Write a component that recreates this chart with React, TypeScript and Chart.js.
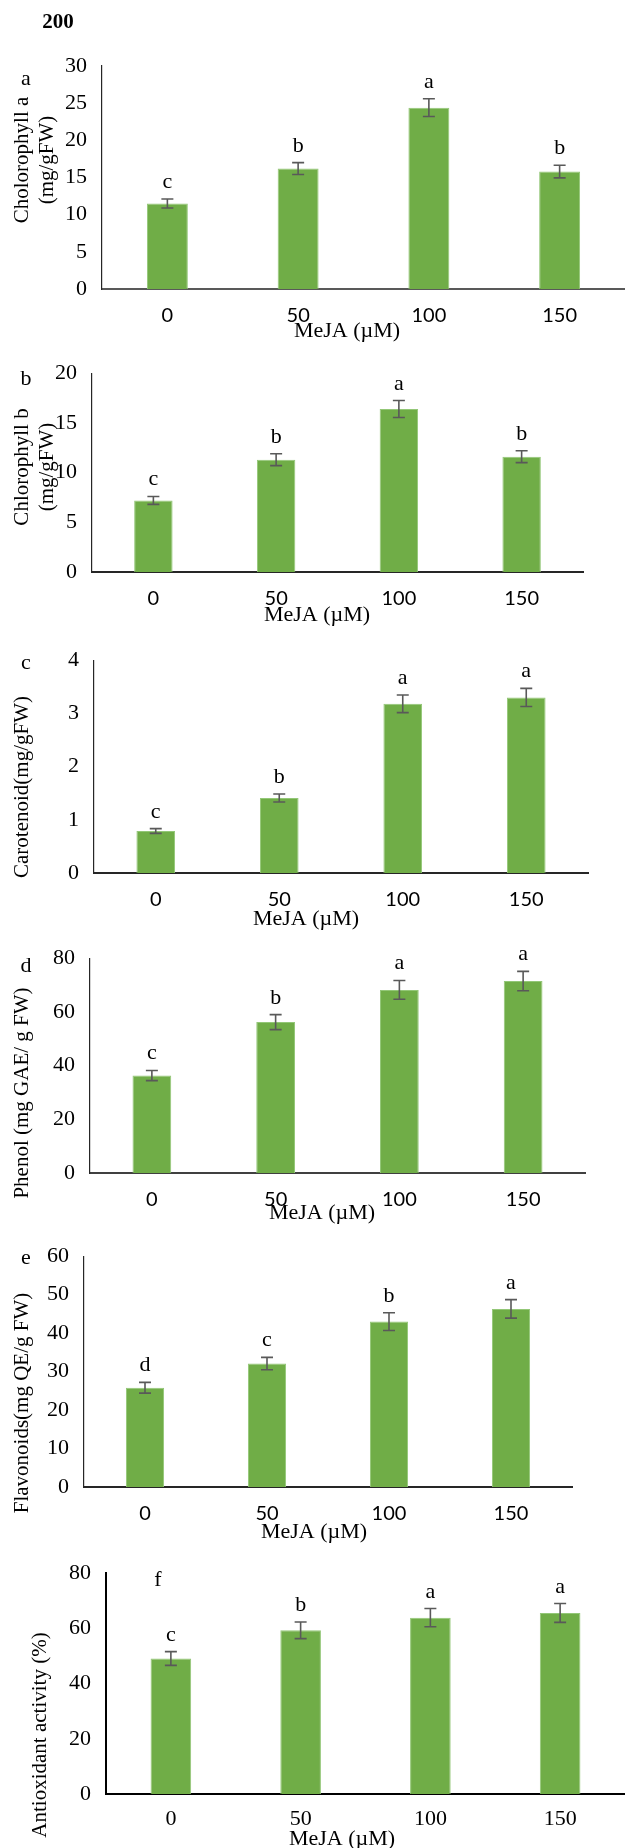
import React, { useEffect, useRef } from "react";
import { Chart, registerables } from "chart.js";

Chart.register(...registerables);

// ---------------- DATA ----------------
const doses = ["0", "50", "100", "150"];

const chlorophyllA = [11.5, 16.2, 24.4, 15.8];
const chlorophyllAErr = [0.6, 0.8, 1.2, 0.85];
const chlorophyllALetters = ["c", "b", "a", "b"];

const chlorophyllB = [7.2, 11.3, 16.4, 11.6];
const chlorophyllBErr = [0.4, 0.6, 0.85, 0.6];
const chlorophyllBLetters = ["c", "b", "a", "b"];

const carotenoid = [0.79, 1.41, 3.18, 3.3];
const carotenoidErr = [0.045, 0.075, 0.165, 0.17];
const carotenoidLetters = ["c", "b", "a", "a"];

const phenol = [36.3, 56.2, 68.2, 71.5];
const phenolErr = [1.9, 2.8, 3.5, 3.6];
const phenolLetters = ["c", "b", "a", "a"];

const flavonoids = [25.8, 32.1, 43.0, 46.3];
const flavonoidsErr = [1.4, 1.6, 2.3, 2.4];
const flavonoidsLetters = ["d", "c", "b", "a"];

const antioxidant = [49.1, 59.3, 63.9, 65.6];
const antioxidantErr = [2.5, 3.0, 3.3, 3.4];
const antioxidantLetters = ["c", "b", "a", "a"];

const axisMax = [30, 20, 4, 80, 60, 80];
const axisStep = [5, 5, 1, 20, 10, 20];

const xAxisTitle = "MeJA (\u00b5M)";
const figureNumber = "200";

// ---------------- STYLE / LAYOUT ----------------
const SERIF = "'Liberation Serif', 'Times New Roman', serif";
const SANS = "Lato, 'Open Sans', sans-serif";
const BAR_COLOR = "#70AD47";
const ERR_COLOR = "#595959";
const TEXT_SIZE = 22;

type Layout = {
  top: number;
  height: number;
  left: number;
  right: number;
  areaTop: number;
  areaBottom: number;
  titleLines: string[];
  titleX: number[];
  titleY: number;
  panelLabel: string;
  panelLabelX: number;
  panelLabelBase: number;
  xTitleX: number;
  xTitleY: number;
  xTickFont: string;
  xTickSize: number;
  xTickPad: number;
  xAxisColor: string;
  xAxisWidth: number;
  yAxisColor: string;
  yAxisWidth: number;
};

type Panel = Layout & {
  values: number[];
  errors: number[];
  letters: string[];
  max: number;
  step: number;
  extra?: { text: string; x: number; y: number; font: string }[];
};

const panels: Panel[] = [
  {
    top: 0, height: 345, left: 102, right: 625, areaTop: 66, areaBottom: 289,
    titleLines: ["Cholorophyll a", "(mg/gFW)"], titleX: [22, 47], titleY: 160,
    panelLabel: "a", panelLabelX: 26, panelLabelBase: 85,
    xTitleX: 347, xTitleY: 331,
    xTickFont: SANS, xTickSize: 20, xTickPad: 15,
    xAxisColor: "#595959", xAxisWidth: 2, yAxisColor: "#262626", yAxisWidth: 1.2,
    values: chlorophyllA, errors: chlorophyllAErr, letters: chlorophyllALetters,
    max: axisMax[0], step: axisStep[0],
    extra: [{ text: figureNumber, x: 58, y: 23, font: `bold 21px ${SERIF}` }],
  },
  {
    top: 345, height: 287, left: 92, right: 583, areaTop: 364, areaBottom: 572,
    titleLines: ["Chlorophyll b", "(mg/gFW)"], titleX: [22, 47], titleY: 467,
    panelLabel: "b", panelLabelX: 26, panelLabelBase: 385,
    xTitleX: 317, xTitleY: 615,
    xTickFont: SANS, xTickSize: 20, xTickPad: 15,
    xAxisColor: "#262626", xAxisWidth: 2, yAxisColor: "#262626", yAxisWidth: 1.2,
    values: chlorophyllB, errors: chlorophyllBErr, letters: chlorophyllBLetters,
    max: axisMax[1], step: axisStep[1],
  },
  {
    top: 632, height: 298, left: 94, right: 588, areaTop: 650, areaBottom: 873,
    titleLines: ["Carotenoid(mg/gFW)"], titleX: [22], titleY: 787,
    panelLabel: "c", panelLabelX: 26, panelLabelBase: 669,
    xTitleX: 306, xTitleY: 919,
    xTickFont: SANS, xTickSize: 20, xTickPad: 15,
    xAxisColor: "#262626", xAxisWidth: 2, yAxisColor: "#262626", yAxisWidth: 1.2,
    values: carotenoid, errors: carotenoidErr, letters: carotenoidLetters,
    max: axisMax[2], step: axisStep[2],
  },
  {
    top: 930, height: 298, left: 90, right: 585, areaTop: 951, areaBottom: 1173,
    titleLines: ["Phenol (mg GAE/ g FW)"], titleX: [22], titleY: 1093,
    panelLabel: "d", panelLabelX: 26, panelLabelBase: 972,
    xTitleX: 322, xTitleY: 1213,
    xTickFont: SANS, xTickSize: 20, xTickPad: 15,
    xAxisColor: "#404040", xAxisWidth: 2, yAxisColor: "#262626", yAxisWidth: 1.2,
    values: phenol, errors: phenolErr, letters: phenolLetters,
    max: axisMax[3], step: axisStep[3],
  },
  {
    top: 1228, height: 317, left: 84, right: 572, areaTop: 1245, areaBottom: 1487,
    titleLines: ["Flavonoids(mg QE/g FW)"], titleX: [22], titleY: 1403,
    panelLabel: "e", panelLabelX: 26, panelLabelBase: 1264,
    xTitleX: 314, xTitleY: 1532,
    xTickFont: SANS, xTickSize: 20, xTickPad: 15,
    xAxisColor: "#262626", xAxisWidth: 2, yAxisColor: "#262626", yAxisWidth: 1.2,
    values: flavonoids, errors: flavonoidsErr, letters: flavonoidsLetters,
    max: axisMax[4], step: axisStep[4],
  },
  {
    top: 1545, height: 303, left: 106, right: 625, areaTop: 1563, areaBottom: 1794,
    titleLines: ["Antioxidant activity (%)"], titleX: [40], titleY: 1735,
    panelLabel: "f", panelLabelX: 158, panelLabelBase: 1586,
    xTitleX: 342, xTitleY: 1839,
    xTickFont: SERIF, xTickSize: 22, xTickPad: 12,
    xAxisColor: "#000000", xAxisWidth: 2, yAxisColor: "#000000", yAxisWidth: 2,
    values: antioxidant, errors: antioxidantErr, letters: antioxidantLetters,
    max: axisMax[5], step: axisStep[5],
  },
];

const X_SCALE_H = 40;

function makeOverlay(p: Panel) {
  return {
    id: "overlay",
    afterDatasetsDraw(chart: any) {
      const ctx = chart.ctx as CanvasRenderingContext2D;
      const ys = chart.scales.y;
      const meta = chart.getDatasetMeta(0);
      ctx.save();
      // error bars + significance letters
      meta.data.forEach((bar: any, i: number) => {
        const v = p.values[i];
        const e = p.errors[i];
        const yHi = ys.getPixelForValue(v + e);
        const yLo = ys.getPixelForValue(v - e);
        const x = bar.x;
        ctx.strokeStyle = ERR_COLOR;
        ctx.lineWidth = 1.6;
        ctx.beginPath();
        ctx.moveTo(x, yHi);
        ctx.lineTo(x, yLo);
        ctx.moveTo(x - 6, yHi);
        ctx.lineTo(x + 6, yHi);
        ctx.moveTo(x - 6, yLo);
        ctx.lineTo(x + 6, yLo);
        ctx.stroke();
        ctx.fillStyle = "#000";
        ctx.font = `${TEXT_SIZE}px ${SERIF}`;
        ctx.textAlign = "center";
        ctx.textBaseline = "alphabetic";
        ctx.fillText(p.letters[i], x, yHi - 11);
      });
      // y-axis title (rotated)
      ctx.fillStyle = "#000";
      ctx.font = `21px ${SERIF}`;
      ctx.textAlign = "center";
      ctx.textBaseline = "middle";
      p.titleLines.forEach((line, i) => {
        ctx.save();
        ctx.translate(p.titleX[i], p.titleY - p.top);
        ctx.rotate(-Math.PI / 2);
        ctx.fillText(line, 0, 0);
        ctx.restore();
      });
      // x-axis title
      ctx.font = `${TEXT_SIZE}px ${SERIF}`;
      ctx.fillText(xAxisTitle, p.xTitleX, p.xTitleY - p.top);
      // panel label
      ctx.textBaseline = "alphabetic";
      ctx.fillText(p.panelLabel, p.panelLabelX, p.panelLabelBase - p.top);
      // extra texts
      (p.extra || []).forEach((t) => {
        ctx.font = t.font;
        ctx.textBaseline = "middle";
        ctx.fillText(t.text, t.x, t.y - p.top);
      });
      ctx.restore();
    },
  };
}

function PanelChart({ p }: { p: Panel }) {
  const ref = useRef<HTMLCanvasElement | null>(null);
  useEffect(() => {
    if (!ref.current) return;
    const padTop = p.areaTop - p.top;
    const padBottom = p.height - (p.areaBottom - p.top) - X_SCALE_H;
    const chart = new Chart(ref.current, {
      type: "bar",
      data: {
        labels: doses,
        datasets: [
          {
            data: p.values,
            backgroundColor: BAR_COLOR,
            borderColor: "#93C777",
            borderWidth: 1,
            categoryPercentage: 1,
            barPercentage: 0.313,
          },
        ],
      },
      options: {
        animation: false,
        responsive: false,
        maintainAspectRatio: false,
        devicePixelRatio: 1,
        layout: {
          padding: { left: 0, right: 625 - p.right, top: padTop, bottom: padBottom },
        },
        plugins: {
          legend: { display: false },
          tooltip: { enabled: false },
          title: { display: false },
        },
        scales: {
          x: {
            grid: { display: false, drawTicks: false },
            border: { display: true, color: p.xAxisColor, width: p.xAxisWidth },
            ticks: {
              color: "#000",
              font: { family: p.xTickFont, size: p.xTickSize },
              padding: p.xTickPad,
              maxRotation: 0,
              autoSkip: false,
            },
            afterFit: (s: any) => {
              s.height = X_SCALE_H;
            },
          },
          y: {
            min: 0,
            max: p.max,
            grid: { display: false, drawTicks: false },
            border: { display: true, color: p.yAxisColor, width: p.yAxisWidth },
            ticks: {
              stepSize: p.step,
              color: "#000",
              font: { family: SERIF, size: TEXT_SIZE },
              padding: 15,
            },
            afterFit: (s: any) => {
              s.width = p.left;
            },
          },
        },
      },
      plugins: [makeOverlay(p)],
    } as any);
    return () => chart.destroy();
  }, [p]);
  return (
    <canvas
      ref={ref}
      width={625}
      height={p.height}
      style={{ position: "absolute", left: 0, top: p.top, width: 625, height: p.height }}
    />
  );
}

export default function App() {
  return (
    <div
      style={{
        position: "absolute",
        left: 0,
        top: 0,
        width: 625,
        height: 1848,
        overflow: "hidden",
        background: "#fff",
      }}
    >
      {panels.map((p, i) => (
        <PanelChart key={i} p={p} />
      ))}
    </div>
  );
}
